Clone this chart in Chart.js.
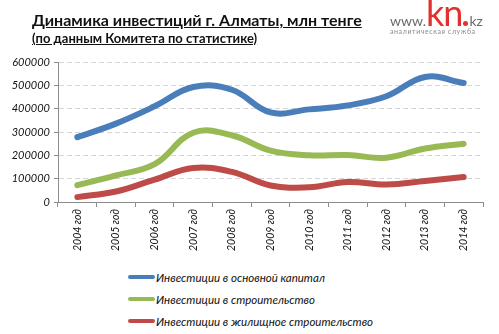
<!DOCTYPE html>
<html>
<head>
<meta charset="utf-8">
<script src="https://cdn.jsdelivr.net/npm/chart.js@4"></script>
<style>
    body { margin: 0; background: #fff; }
    #page { position: relative; width: 499px; height: 334px; overflow: hidden; font-family: Lato, 'Noto Sans', sans-serif; }
    #box { position: absolute; left: 0; top: 0; width: 499px; height: 262px; }
    .title { position: absolute; left: 32px; font-weight: bold; text-decoration: underline; color: #111; white-space: nowrap; }
    #t1 { top: 10px; font-size: 16px; }
    #t2 { top: 30px; font-size: 13px; }
    #logo { position: absolute; left: 390px; top: -10px; white-space: nowrap; color: #6b6b6b; }
    #logo .www { font-size: 14px; }
    #logo .kn { font-size: 36px; color: #e2312c; letter-spacing: -1px; }
    #logo .dot { display: inline-block; width: 5px; height: 5px; border-radius: 50%; background: #e2312c; margin: 0 1px; }
    #logo .kz { font-size: 14px; }
    #sub { position: absolute; left: 390px; top: 27px; font-size: 7px; letter-spacing: 0.6px; color: #8a8a8a; white-space: nowrap; }
    #legend { position: absolute; left: 128px; top: 266px; }
    .item { height: 22px; display: flex; align-items: center; font-style: italic; font-size: 11.5px; color: #111; }
    .item .sw { width: 27px; height: 4px; border-radius: 2px; margin-right: 1px; }
</style>
</head>
<body>
<div id="page">
    <div id="box"><canvas id="chart"></canvas></div>
    <div class="title" id="t1">Динамика инвестиций г. Алматы, млн тенге</div>
    <div class="title" id="t2">(по данным Комитета по статистике)</div>
    <div id="logo"><span class="www">www.</span><span class="kn">kn</span><span class="dot"></span><span class="kz">kz</span></div>
    <div id="sub">аналитическая служба</div>
    <div id="legend"></div>
</div>
<script>
const years = ['2004 год', '2005 год', '2006 год', '2007 год', '2008 год', '2009 год',
    '2010 год', '2011 год', '2012 год', '2013 год', '2014 год'];

const capital = [278000, 336000, 410000, 493000, 481000, 384000, 397000, 414000, 453000, 536000, 510000];
const construction = [72000, 114000, 162000, 297000, 286000, 220000, 200000, 201000, 190000, 229000, 250000];
const housing = [21000, 45000, 96000, 146000, 129000, 71000, 63000, 86000, 75000, 90000, 107000];

const names = ['Инвестиции в основной капитал', 'Инвестиции в строительство', 'Инвестиции в жилищное строительство'];
const colors = ['#4a7ebb', '#98b954', '#be4b48'];

const yTicks = [0, 100000, 200000, 300000, 400000, 500000, 600000];

function line(i, values) {
    return {
        label: names[i],
        data: values,
        borderColor: colors[i],
        backgroundColor: colors[i],
        borderWidth: 6,
        borderCapStyle: 'round',
        borderJoinStyle: 'round',
        pointRadius: 0,
        tension: 0.4,
    };
}

const chart = new Chart(document.getElementById('chart'), {
    type: 'line',
    data: {
        labels: years,
        datasets: [line(0, capital), line(1, construction), line(2, housing)],
    },
    options: {
        responsive: true,
        maintainAspectRatio: false,
        animation: false,
        layout: {
            padding: { top: 62, right: 16, bottom: 0, left: 0 },
        },
        plugins: {
            legend: { display: false },
            tooltip: { enabled: false },
        },
        scales: {
            x: {
                offset: true,
                afterFit: (scale) => { scale.height = 60; },
                grid: {
                    offset: true,
                    drawOnChartArea: false,
                    tickLength: 5,
                    tickColor: '#8c8c8c',
                },
                border: { color: '#8c8c8c' },
                ticks: {
                    minRotation: 90,
                    maxRotation: 90,
                    padding: 2,
                    color: '#111',
                    font: { family: 'Lato', size: 10.5, style: 'italic' },
                },
            },
            y: {
                min: 0,
                max: 600000,
                afterFit: (scale) => { scale.width = 58; },
                afterBuildTicks: (scale) => { scale.ticks = yTicks.map(v => ({ value: v })); },
                grid: {
                    color: '#d6d6d6',
                    tickColor: '#8c8c8c',
                    tickLength: 4,
                    tickBorderDash: [],
                },
                border: { color: '#8c8c8c', dash: [5, 3] },
                ticks: {
                    padding: 4,
                    color: '#111',
                    font: { family: 'Lato', size: 11, style: 'italic' },
                    callback: (v) => String(v),
                },
            },
        },
    },
});

// legend as a vertical list under the plot
const legend = document.getElementById('legend');
chart.data.datasets.forEach((ds) => {
    const row = document.createElement('div');
    row.className = 'item';
    const sw = document.createElement('span');
    sw.className = 'sw';
    sw.style.background = ds.borderColor;
    row.appendChild(sw);
    row.appendChild(document.createTextNode(ds.label));
    legend.appendChild(row);
});
</script>
</body>
</html>
